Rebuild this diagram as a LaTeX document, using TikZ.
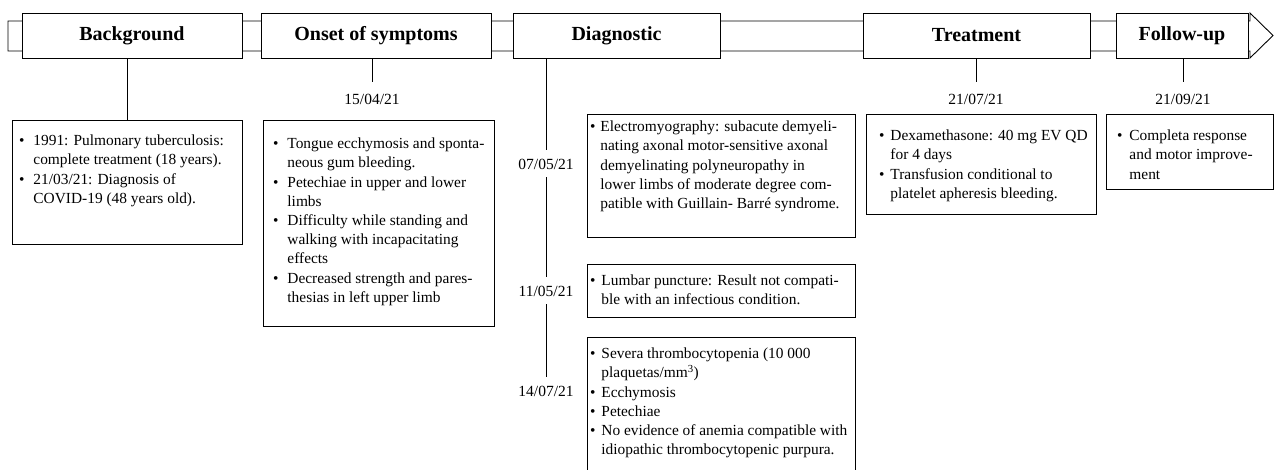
\documentclass[tikz,border=0pt]{standalone}
\usepackage{fontspec}
\setmainfont{Liberation Serif}
\newcommand{\bul}[1][6]{\llap{\textbullet\hspace{#1pt}}}

\begin{document}
\begin{tikzpicture}[x=1pt, y=-1pt, line width=0.9pt,
  phase/.style={draw, fill=white, minimum height=45pt, inner sep=0pt, font=\fontsize{20}{24}\selectfont\bfseries},
  cell/.style={draw, anchor=north west, inner sep=0pt},
  items/.style={anchor=north west, inner sep=0pt, yshift=13.44pt, align=left, font=\fontsize{15.4}{19.2}\selectfont, execute at begin node=\strut},
  date/.style={anchor=base, inner xsep=0pt, inner ysep=8pt, text height=11pt, text depth=0pt, font=\fontsize{15.5}{18}\selectfont}]
  \useasboundingbox (0,0) rectangle (1276,469);

  % Timeline band with arrow head
  \draw (8,21) -- (1250,21) -- (1250,13) -- (1273,35.5) -- (1250,58) -- (1250,51) -- (8,51) -- cycle;

  % Phase headers
  \node[phase, minimum width=220pt] (bg) at (132,35.5) {Background};
  \node[phase, minimum width=230pt] (onset) at (376,35.5) {Onset of symptoms};
  \node[phase, minimum width=207pt] (diag) at (616.5,35.5) {Diagnostic};
  \node[phase, minimum width=227pt] (treat) at (976.5,35.5) {Treatment};
  \node[phase, minimum width=132pt] (follow) at (1182,35.5) {Follow-up};

  % Background
  \node[cell, minimum width=230pt, minimum height=124pt] (bgbox) at (12,120) {};
  \node[items] (bgtxt) at (33,148) {\bul[9]1991: Pulmonary tuberculosis:\\
    complete treatment (18 years).\\
    \bul[9]21/03/21: Diagnosis of\\
    COVID-19 (48 years old).};
  \draw (bg.south -| bgbox.north) -- (bgbox.north);

  % Onset of symptoms
  \node[date, inner ysep=11pt] (osdate) at (372,104) {15/04/21};
  \draw (onset.south -| osdate.north) -- (osdate.north);
  \node[cell, minimum width=231pt, minimum height=206pt] (osbox) at (263,120) {};
  \node[items] (ostxt) at (287,151) {\bul[9]Tongue ecchymosis and sponta-\\
    neous gum bleeding.\\
    \bul[9]Petechiae in upper and lower\\
    limbs\\
    \bul[9]Difficulty while standing and\\
    walking with incapacitating\\
    effects\\
    \bul[9]Decreased strength and pares-\\
    thesias in left upper limb};

  % Diagnostic
  \node[date] (dgdate1) at (546,169) {07/05/21};
  \node[date] (dgdate2) at (546,296) {11/05/21};
  \node[date] (dgdate3) at (546,396) {14/07/21};
  \draw (diag.south -| dgdate1.north) -- (dgdate1.north);
  \draw (dgdate1.south) -- (dgdate2.north);
  \draw (dgdate2.south) -- (dgdate3.north);

  \node[cell, minimum width=268pt, minimum height=123pt] (emgbox) at (587,114) {};
  \node[items] (emgtxt) at (600,134) {\bul[5]Electromyography: subacute demyeli-\\
    nating axonal motor-sensitive axonal\\
    demyelinating polyneuropathy in\\
    lower limbs of moderate degree com-\\
    patible with Guillain- Barré syndrome.};

  \node[cell, minimum width=268pt, minimum height=53pt] (lpbox) at (587,264) {};
  \node[items] (lptxt) at (601,288) {\bul Lumbar puncture: Result not compati-\\
    ble with an infectious condition.};

  \node[cell, minimum width=268pt, minimum height=140pt] (plbox) at (587,337) {};
  \node[items] (pltxt) at (601,361) {\bul Severa thrombocytopenia (10~000\\
    plaquetas/mm\textsuperscript{3})\\
    \bul Ecchymosis\\
    \bul Petechiae\\
    \bul No evidence of anemia compatible with\\
    idiopathic thrombocytopenic purpura.};

  % Treatment
  \node[date, inner ysep=11pt] (trdate) at (976,104) {21/07/21};
  \draw (treat.south -| trdate.north) -- (trdate.north);
  \node[cell, minimum width=230pt, minimum height=100pt] (trbox) at (866,114) {};
  \node[items] (trtxt) at (890,143) {\bul Dexamethasone: 40 mg EV QD\\
    for 4 days\\
    \bul Transfusion conditional to\\
    platelet apheresis bleeding.};

  % Follow-up
  \node[date, inner ysep=11pt] (fudate) at (1183,104) {21/09/21};
  \draw (follow.south -| fudate.north) -- (fudate.north);
  \node[cell, minimum width=167pt, minimum height=75pt] (fubox) at (1106,114) {};
  \node[items] (futxt) at (1129,143) {\bul[7]Completa response\\
    and motor improve-\\
    ment};
\end{tikzpicture}
\end{document}
